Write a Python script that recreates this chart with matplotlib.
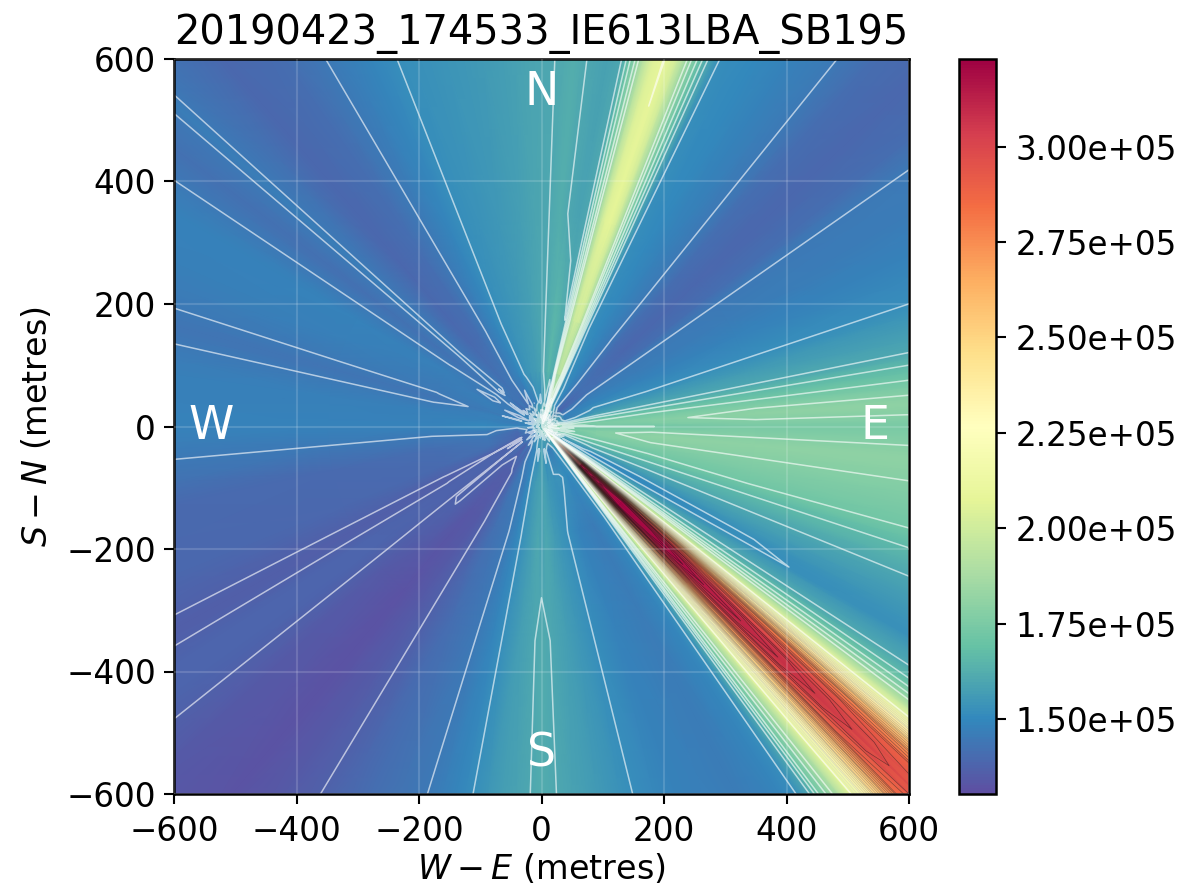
import numpy as np
import matplotlib
matplotlib.use('Agg')
import matplotlib.pyplot as plt

# values, in units of 1e5, one list per radius (metres)
angle_deg = [-180,-174.8,-168,-158,-152.7,-151,-149.2,-147,-144,-141.4,-138,-130,-125,-121.1,
             -115,-107.3,-103,-100.6,-96,-91.8,-90,-87.6,-83,-80,-76,-70,-62,-57,
             -55.3,-53.9,-53.4,-53,-52,-51,-50,-49,-48,-47,-46,-45,-44.3,-43.5,-42.5,-41.5,-40.5,-39.5,-38.5,-37.5,-36.5,-35.3,-34.4,-33,
             -31,-29.6,-28,-26,-24,-22.2,-18.3,-15.5,-12,-8.5,-5,-2.9,0,1.8,3.5,4.9,7.2,9.5,11.4,15,18.5,
             25,30,35.2,38,43,48,51.1,56,60,64.1,
             65.6,66.3,67,68,69,70,70.7,71.5,73,74,75,75.7,76.4,77,77.7,
             80,82.9,85,88,92,96,102,107,111.7,115,120.5,125,131,137.9,138.7,139.6,143,146.1,150,156,162.3,164.8,167.2,172,180]

radii = [1, 15, 40, 90, 180, 350, 900]
centre_val = 1.65

ring_15 = [1.50,1.56,1.48,1.52,1.45,1.50,1.44,1.48,1.42,1.48,1.52,1.46,1.54,1.50,
           1.58,1.52,1.60,1.54,1.62,1.56,1.60,1.54,1.64,1.58,1.66,1.60,1.68,1.62,
           1.6,1.62,1.65,1.68,1.7,1.72,1.75,1.78,1.8,1.82,1.85,1.87,1.88,1.87,1.85,1.82,1.8,1.78,1.75,1.72,1.7,1.68,1.65,1.62,
           1.72,1.66,1.78,1.70,1.82,1.74,1.80,1.70,1.78,1.72,1.82,1.74,1.76,1.84,1.78,1.72,1.80,1.70,1.76,1.68,1.74,
           1.66,1.74,1.62,1.70,1.60,1.68,1.62,1.74,1.66,1.78,
           1.72,1.80,1.76,1.84,1.78,1.86,1.80,1.88,1.78,1.84,1.74,1.80,1.70,1.78,1.68,
           1.76,1.66,1.74,1.64,1.70,1.60,1.66,1.58,1.64,1.54,1.60,1.56,1.62,1.52,1.58,1.50,1.56,1.48,1.54,1.46,1.54,1.48,1.56,1.50,1.50]

ring_40 = [1.49,1.43,1.40,1.39,1.38,1.35,1.38,1.36,1.39,1.37,1.42,1.38,1.44,1.40,
           1.46,1.50,1.48,1.54,1.50,1.56,1.60,1.56,1.50,1.54,1.48,1.46,1.52,1.56,
           1.55,1.58,1.62,1.66,1.72,1.8,1.9,2.0,2.1,2.2,2.28,2.33,2.35,2.33,2.28,2.2,2.1,2.0,1.9,1.8,1.72,1.66,1.6,1.56,
           1.56,1.52,1.58,1.54,1.60,1.56,1.64,1.70,1.73,1.70,1.75,1.71,1.73,1.69,1.74,1.72,1.66,1.62,1.55,1.50,1.46,
           1.48,1.44,1.43,1.40,1.38,1.42,1.46,1.50,1.54,1.58,
           1.62,1.66,1.70,1.74,1.78,1.76,1.80,1.84,1.80,1.76,1.72,1.68,1.66,1.60,1.58,
           1.54,1.60,1.58,1.55,1.50,1.53,1.49,1.45,1.47,1.42,1.45,1.41,1.44,1.40,1.45,1.42,1.46,1.44,1.48,1.43,1.47,1.44,1.48,1.46,1.49]

ring_90 = [1.50,1.46,1.44,1.42,1.38,1.37,1.38,1.38,1.38,1.37,1.375,1.36,1.36,1.38,
           1.44,1.46,1.50,1.53,1.56,1.58,1.58,1.58,1.55,1.54,1.53,1.53,1.50,1.52,
           1.55,1.6,1.66,1.72,1.84,1.98,2.15,2.35,2.6,2.85,3.02,3.1,3.14,3.1,3.0,2.85,2.6,2.35,2.15,1.98,1.84,1.72,1.66,1.6,
           1.54,1.50,1.50,1.54,1.58,1.61,1.66,1.70,1.74,1.77,1.77,1.75,1.72,1.74,1.75,1.74,1.70,1.66,1.60,1.56,1.53,
           1.49,1.47,1.45,1.42,1.42,1.43,1.46,1.49,1.51,1.54,
           1.62,1.68,1.72,1.78,1.84,1.88,1.90,1.92,1.90,1.88,1.84,1.78,1.72,1.66,1.62,
           1.62,1.65,1.63,1.60,1.58,1.56,1.55,1.53,1.50,1.48,1.46,1.44,1.43,1.46,1.45,1.46,1.44,1.46,1.44,1.47,1.46,1.46,1.47,1.47,1.50]

ring_180 = [1.48,1.45,1.41,1.40,1.37,1.36,1.37,1.375,1.375,1.37,1.372,1.34,1.345,1.37,
            1.42,1.45,1.49,1.52,1.56,1.60,1.58,1.60,1.56,1.54,1.52,1.48,1.46,1.49,
            1.52,1.60,1.66,1.72,1.85,2.0,2.2,2.42,2.7,3.0,3.22,3.32,3.36,3.32,3.2,3.0,2.75,2.45,2.2,2.0,1.85,1.72,1.66,1.60,
            1.55,1.50,1.50,1.54,1.58,1.60,1.66,1.71,1.74,1.78,1.80,1.78,1.72,1.76,1.77,1.76,1.72,1.66,1.60,1.56,1.52,
            1.48,1.46,1.45,1.41,1.39,1.41,1.45,1.48,1.50,1.52,
            1.60,1.66,1.72,1.80,1.90,1.97,1.99,2.00,1.99,1.94,1.84,1.78,1.72,1.66,1.60,
            1.62,1.65,1.63,1.60,1.59,1.57,1.55,1.53,1.52,1.49,1.45,1.41,1.40,1.45,1.465,1.45,1.43,1.45,1.47,1.46,1.45,1.435,1.45,1.47,1.48]

ring_350 = [1.48,1.45,1.40,1.39,1.37,1.36,1.37,1.385,1.385,1.37,1.345,1.325,1.345,1.37,
            1.41,1.45,1.49,1.52,1.57,1.60,1.615,1.60,1.57,1.55,1.52,1.48,1.46,1.49,
            1.52,1.60,1.66,1.72,1.82,1.95,2.12,2.30,2.52,2.75,2.98,3.12,3.17,3.12,3.0,2.85,2.62,2.38,2.15,1.97,1.83,1.72,1.66,1.60,
            1.56,1.518,1.518,1.55,1.58,1.60,1.66,1.72,1.75,1.78,1.80,1.78,1.74,1.78,1.80,1.78,1.72,1.66,1.60,1.56,1.52,
            1.48,1.46,1.45,1.41,1.39,1.41,1.45,1.48,1.50,1.52,
            1.60,1.66,1.72,1.80,1.92,2.02,2.05,2.075,2.05,1.98,1.86,1.78,1.72,1.66,1.60,
            1.585,1.60,1.62,1.60,1.59,1.57,1.55,1.53,1.52,1.49,1.45,1.41,1.39,1.45,1.465,1.45,1.42,1.45,1.48,1.47,1.45,1.435,1.45,1.47,1.48]

ring_900 = [1.48,1.45,1.40,1.39,1.37,1.36,1.37,1.385,1.385,1.37,1.345,1.325,1.345,1.37,
            1.41,1.45,1.49,1.52,1.57,1.60,1.62,1.60,1.57,1.55,1.52,1.48,1.46,1.49,
            1.52,1.60,1.66,1.72,1.80,1.90,2.05,2.20,2.40,2.60,2.82,2.90,2.91,2.90,2.86,2.70,2.50,2.30,2.10,1.95,1.82,1.72,1.66,1.60,
            1.56,1.53,1.55,1.56,1.58,1.60,1.66,1.72,1.75,1.78,1.80,1.78,1.74,1.78,1.80,1.78,1.72,1.66,1.60,1.56,1.52,
            1.48,1.46,1.45,1.41,1.39,1.41,1.45,1.48,1.50,1.52,
            1.60,1.66,1.72,1.80,1.92,2.02,2.05,2.09,2.05,1.98,1.86,1.78,1.72,1.66,1.60,
            1.58,1.60,1.62,1.60,1.59,1.57,1.55,1.53,1.52,1.49,1.45,1.41,1.39,1.45,1.465,1.45,1.42,1.45,1.48,1.47,1.45,1.435,1.45,1.47,1.48]

low_levels = [1.37,1.45,1.52,1.60,1.66,1.72,1.78,1.84,2.08]
cbar_ticks = [1.5e5,1.75e5,2.0e5,2.25e5,2.5e5,2.75e5,3.0e5]
ticks = [-600,-400,-200,0,200,400,600]
vmin, vmax = 1.303e5, 3.23e5

# polar table on to x,y
theta = np.deg2rad(angle_deg)
rings = [np.full(len(angle_deg), centre_val), ring_15, ring_40, ring_90, ring_180, ring_350, ring_900]
Z = np.array(rings, dtype=float) * 1e5
R, T = np.meshgrid(radii, theta, indexing='ij')
X = R * np.cos(T)
Y = R * np.sin(T)

low = np.array(low_levels) + 0.0005
high = np.arange(2.12, 3.24, 0.04) + 0.0005
grey = np.interp(high, [2.1, 2.4, 2.7, 3.0], [0.85, 0.55, 0.25, 0.08])
high_cols = [(g, g, g) for g in grey]

fig = plt.figure(figsize=(11.95, 8.89), dpi=100)
ax = fig.add_axes([174/1195, 1-794/889, 735/1195, 735/889])
cax = fig.add_axes([959/1195, 1-794/889, 37/1195, 735/889])

mesh = ax.pcolormesh(X, Y, Z, shading='gouraud', cmap='Spectral_r', vmin=vmin, vmax=vmax)
ax.contour(X, Y, Z, levels=low*1e5, colors='white', linewidths=1.1, alpha=0.62)
ax.contour(X, Y, Z, levels=high*1e5, colors=high_cols, linewidths=0.45, alpha=0.55)

ax.set_xlim(-600, 600)
ax.set_ylim(-600, 600)
ax.set_xticks(ticks)
ax.set_yticks(ticks)
ax.grid(color='white', alpha=0.15, linewidth=1.5)
ax.set_axisbelow(False)
ax.tick_params(labelsize=23.5, length=7, width=1.5, pad=6)
ax.tick_params(axis='x', pad=8)
for s in ax.spines.values():
    s.set_linewidth(1.8)

ax.set_title('20190423_174533_IE613LBA_SB195', fontsize=28.7, pad=11)
ax.set_xlabel('$W-E$ (metres)', fontsize=24, labelpad=3)
ax.set_ylabel('$S-N$ (metres)', fontsize=24, labelpad=9)

ax.text(0, 545, 'N', color='white', fontsize=33, ha='center', va='center')
ax.text(0, -535, 'S', color='white', fontsize=33, ha='center', va='center')
ax.text(545, 0, 'E', color='white', fontsize=33, ha='center', va='center')
ax.text(-540, 0, 'W', color='white', fontsize=33, ha='center', va='center')

cb = fig.colorbar(mesh, cax=cax, format='%.2e')
cb.set_ticks(cbar_ticks)
cb.ax.tick_params(labelsize=23.5, length=7, width=1.5, pad=7)
cb.outline.set_linewidth(1.8)

fig.savefig('out.png', dpi=100)
